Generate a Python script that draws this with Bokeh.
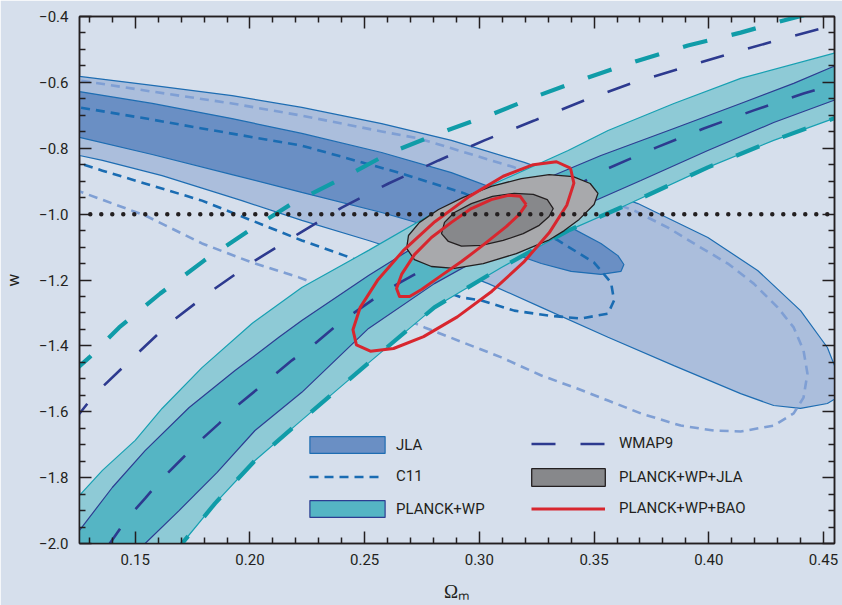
from bokeh.plotting import figure
from bokeh.models import (Range1d, LinearAxis, FixedTicker, CustomJSTickFormatter,
                          Legend, LegendItem)
from bokeh.embed import file_html
from bokeh.resources import INLINE

BG = "#d6dfec"
INK = "#231f20"
FONT = "Roboto"

# ---------------- axes ----------------
x_lo, x_hi = 0.1257, 0.4548
y_lo, y_hi = -2.0, -0.4
x_ticks = [0.15, 0.20, 0.25, 0.30, 0.35, 0.40, 0.45]
x_tick_labels = ["0.15", "0.20", "0.25", "0.30", "0.35", "0.40", "0.45"]
x_minor = [0.13, 0.14, 0.16, 0.17, 0.18, 0.19, 0.21, 0.22, 0.23, 0.24,
           0.26, 0.27, 0.28, 0.29, 0.31, 0.32, 0.33, 0.34, 0.36,
           0.37, 0.38, 0.39, 0.41, 0.42, 0.43, 0.44]
y_ticks = [-2.0, -1.8, -1.6, -1.4, -1.2, -1.0, -0.8, -0.6, -0.4]
y_tick_labels = ["\u22122.0", "\u22121.8", "\u22121.6", "\u22121.4", "\u22121.2",
                 "\u22121.0", "\u22120.8", "\u22120.6", "\u22120.4"]
y_minor = [-1.95, -1.9, -1.85, -1.75, -1.7, -1.65, -1.55, -1.5,
           -1.45, -1.35, -1.3, -1.25, -1.15, -1.1, -1.05, -0.95,
           -0.9, -0.85, -0.75, -0.7, -0.65, -0.55, -0.5, -0.45]

# ---------------- JLA (SN Ia) contours ----------------
jla2_x = [0.1200, 0.1257, 0.1574, 0.1922, 0.2226, 0.2574, 0.2878, 0.3196, 0.3443, 0.3691,
          0.3996, 0.4213, 0.4400, 0.4517, 0.4565, 0.4574, 0.4552, 0.4517, 0.4400, 0.4283,
          0.4139, 0.3848, 0.3561, 0.3270, 0.3039, 0.2748, 0.2517, 0.2226, 0.1965, 0.1617,
          0.1357, 0.1257, 0.1200]
jla2_y = [-0.576, -0.582, -0.609, -0.640, -0.676, -0.725, -0.776, -0.843, -0.904, -0.968,
          -1.071, -1.171, -1.293, -1.405, -1.490, -1.520, -1.560, -1.575, -1.590, -1.581,
          -1.545, -1.460, -1.374, -1.283, -1.211, -1.132, -1.080, -1.019, -0.959, -0.883,
          -0.837, -0.822, -0.810]
jla1_x = [0.1200, 0.1257, 0.1574, 0.1922, 0.2226, 0.2574, 0.2878, 0.3183, 0.3357, 0.3530,
          0.3604, 0.3630, 0.3617, 0.3530, 0.3400, 0.3270, 0.2922, 0.2574, 0.2226, 0.1922,
          0.1574, 0.1257, 0.1200]
jla1_y = [-0.619, -0.628, -0.664, -0.710, -0.755, -0.813, -0.874, -0.953, -1.025, -1.089,
          -1.126, -1.153, -1.174, -1.183, -1.174, -1.150, -1.065, -0.995, -0.934, -0.880,
          -0.819, -0.767, -0.758]

# ---------------- C11 contours ----------------
c11_1_x = [0.1200, 0.1257, 0.1574, 0.1791, 0.2226, 0.2648, 0.2935, 0.3139, 0.3343, 0.3500,
           0.3574, 0.3587, 0.3561, 0.3443, 0.3300, 0.3152, 0.3009, 0.2922, 0.2661, 0.2413,
           0.2226, 0.1791, 0.1357, 0.1257, 0.1200]
c11_1_y = [-0.667, -0.676, -0.713, -0.740, -0.792, -0.874, -0.937, -1.001, -1.080, -1.147,
           -1.208, -1.262, -1.302, -1.317, -1.308, -1.293, -1.262, -1.253, -1.189, -1.126,
           -1.080, -0.959, -0.868, -0.846, -0.834]
c11_2_x = [0.1200, 0.1257, 0.1574, 0.1922, 0.2226, 0.2574, 0.2735, 0.3152, 0.3400, 0.3674,
           0.3822, 0.3935, 0.4083, 0.4196, 0.4300, 0.4370, 0.4413, 0.4430, 0.4413, 0.4370,
           0.4283, 0.4139, 0.4022, 0.3878, 0.3704, 0.3561, 0.3413, 0.3270, 0.3096, 0.2761,
           0.2517, 0.2213, 0.2009, 0.1791, 0.1543, 0.1257, 0.1200]
c11_2_y = [-0.588, -0.594, -0.628, -0.664, -0.701, -0.749, -0.770, -0.858, -0.919, -0.989,
           -1.041, -1.089, -1.150, -1.211, -1.283, -1.344, -1.414, -1.484, -1.557, -1.605,
           -1.642, -1.660, -1.657, -1.642, -1.605, -1.566, -1.526, -1.490, -1.435, -1.344,
           -1.271, -1.192, -1.147, -1.089, -1.004, -0.931, -0.919]

# ---------------- PLANCK+WP band ----------------
pl2_up_x = [0.1050, 0.1257, 0.1357, 0.1500, 0.1617, 0.1791, 0.2009, 0.2226, 0.2517, 0.2804,
            0.3096, 0.3387, 0.3561, 0.3848, 0.4139, 0.4543, 0.4596]
pl2_up_y = [-2.010, -1.854, -1.778, -1.687, -1.590, -1.466, -1.332, -1.223, -1.110, -0.995,
            -0.898, -0.807, -0.746, -0.664, -0.588, -0.512, -0.503]
pl2_lo_x = [0.1661, 0.1704, 0.1848, 0.2022, 0.2213, 0.2530, 0.2804, 0.3096, 0.3387, 0.3617,
            0.3996, 0.4283, 0.4543, 0.4596]
pl2_lo_y = [-2.036, -2.000, -1.878, -1.748, -1.633, -1.444, -1.283, -1.162, -1.050, -0.980,
            -0.858, -0.776, -0.710, -0.698]
pl1_up_x = [0.1200, 0.1257, 0.1400, 0.1543, 0.1735, 0.1935, 0.2126, 0.2226, 0.2517, 0.2804,
            0.3096, 0.3270, 0.3530, 0.3848, 0.4139, 0.4370, 0.4543, 0.4596]
pl1_up_y = [-2.009, -1.960, -1.830, -1.718, -1.587, -1.475, -1.374, -1.323, -1.186, -1.062,
            -0.959, -0.898, -0.822, -0.740, -0.664, -0.603, -0.552, -0.540]
pl1_lo_x = [0.1509, 0.1543, 0.1691, 0.1857, 0.2022, 0.2226, 0.2517, 0.2804, 0.3096, 0.3387,
            0.3704, 0.3996, 0.4283, 0.4543, 0.4596]
pl1_lo_y = [-2.027, -2.000, -1.900, -1.784, -1.657, -1.541, -1.347, -1.211, -1.098, -0.995,
            -0.898, -0.807, -0.722, -0.655, -0.643]

# ---------------- WMAP9 contours (dashed) ----------------
wmap1_up_x = [0.1226, 0.1326, 0.1487, 0.1648, 0.1835, 0.2022, 0.2213, 0.2400, 0.2604, 0.2822,
              0.3022, 0.3239, 0.3457, 0.3674, 0.3891, 0.4109, 0.4326, 0.4543, 0.4596]
wmap1_up_y = [-1.633, -1.545, -1.438, -1.332, -1.232, -1.141, -1.059, -0.980, -0.907, -0.837,
              -0.776, -0.716, -0.655, -0.600, -0.555, -0.509, -0.467, -0.427, -0.418]
wmap1_lo_x = [0.1374, 0.1465, 0.1543, 0.1609, 0.1696, 0.1770, 0.1865, 0.1935, 0.2052, 0.2183,
              0.2283, 0.2387, 0.2574, 0.2661, 0.2878, 0.3096, 0.3313, 0.3561, 0.3770, 0.3978,
              0.4196, 0.4413, 0.4574]
wmap1_lo_y = [-2.015, -1.924, -1.863, -1.809, -1.748, -1.696, -1.636, -1.587, -1.520, -1.444,
              -1.393, -1.332, -1.241, -1.205, -1.120, -1.038, -0.956, -0.861, -0.798, -0.740,
              -0.685, -0.634, -0.600]
wmap2_up_x = [0.1226, 0.1300, 0.1430, 0.1609, 0.1800, 0.1996, 0.2183, 0.2400, 0.2604, 0.2822,
              0.3039, 0.3257, 0.3474, 0.3691, 0.3909, 0.4139, 0.4326, 0.4443]
wmap2_up_y = [-1.481, -1.435, -1.344, -1.241, -1.141, -1.050, -0.968, -0.892, -0.816, -0.755,
              -0.701, -0.640, -0.585, -0.534, -0.488, -0.449, -0.412, -0.391]
wmap2_lo_x = [0.1661, 0.1704, 0.1848, 0.2022, 0.2213, 0.2530, 0.2804, 0.3096, 0.3387, 0.3617,
              0.3996, 0.4283, 0.4543, 0.4596]
wmap2_lo_y = [-2.036, -2.000, -1.878, -1.748, -1.633, -1.444, -1.283, -1.162, -1.050, -0.980,
              -0.858, -0.776, -0.710, -0.698]

# ---------------- PLANCK+WP+JLA (grey) ----------------
pj2_x = [0.3517, 0.3500, 0.3435, 0.3370, 0.3300, 0.3161, 0.3017, 0.2891, 0.2791, 0.2717,
         0.2683, 0.2691, 0.2739, 0.2822, 0.2930, 0.3052, 0.3183, 0.3304, 0.3409, 0.3483]
pj2_y = [-0.937, -0.971, -1.016, -1.050, -1.080, -1.120, -1.150, -1.165, -1.159, -1.138,
         -1.104, -1.065, -1.025, -0.986, -0.949, -0.916, -0.892, -0.880, -0.886, -0.907]
pj1_x = [0.3322, 0.3304, 0.3261, 0.3191, 0.3104, 0.3009, 0.2922, 0.2865, 0.2835, 0.2848,
         0.2891, 0.2965, 0.3057, 0.3152, 0.3235, 0.3296]
pj1_y = [-0.983, -1.007, -1.034, -1.059, -1.080, -1.095, -1.097, -1.083, -1.059, -1.025,
         -0.995, -0.968, -0.946, -0.937, -0.940, -0.956]

# ---------------- PLANCK+WP+BAO (red) ----------------
pb2_x = [0.3397, 0.3412, 0.3381, 0.3305, 0.3193, 0.3055, 0.2904, 0.2757, 0.2626, 0.2525,
         0.2464, 0.2449, 0.2480, 0.2556, 0.2668, 0.2806, 0.2957, 0.3104, 0.3235, 0.3336,
         0.3397]
pb2_y = [-0.860, -0.906, -0.973, -1.056, -1.146, -1.234, -1.312, -1.372, -1.408, -1.416,
         -1.397, -1.351, -1.284, -1.201, -1.111, -1.023, -0.946, -0.885, -0.850, -0.841,
         -0.860]
pb1_x = [0.3204, 0.3174, 0.3117, 0.3009, 0.2922, 0.2835, 0.2748, 0.2696, 0.2652, 0.2639,
         0.2661, 0.2717, 0.2791, 0.2878, 0.2965, 0.3052, 0.3126, 0.3178, 0.3204]
pb1_y = [-0.971, -1.001, -1.038, -1.098, -1.144, -1.186, -1.229, -1.250, -1.250, -1.226,
         -1.183, -1.123, -1.071, -1.025, -0.983, -0.956, -0.943, -0.946, -0.971]

# cosmological constant w = -1
lcdm_x = [0.1304, 0.4548]
lcdm_y = [-1.0, -1.0]

# ---------------- figure ----------------
p = figure(width=842, height=605, x_range=Range1d(x_lo, x_hi),
           y_range=Range1d(y_lo, y_hi), output_backend="svg", toolbar_location=None,
           min_border_left=77, min_border_right=8, min_border_top=16, min_border_bottom=62,
           x_axis_type=None, y_axis_type=None)
p.background_fill_color = BG
p.border_fill_color = BG
p.outline_line_color = INK
p.outline_line_width = 1.5
p.grid.visible = False

FMT = """
const i = tv.findIndex((t) => Math.abs(t - tick) < 1e-6);
return i >= 0 ? tl[i] : "";
"""


def make_axis(ticks, minor, labels, show, standoff):
    ax = LinearAxis(ticker=FixedTicker(ticks=ticks, minor_ticks=minor),
                    formatter=CustomJSTickFormatter(args=dict(tv=ticks, tl=labels), code=FMT))
    ax.axis_line_color = INK
    ax.axis_line_width = 1.5
    ax.major_tick_in = 12
    ax.major_tick_out = 0
    ax.minor_tick_in = 6
    ax.minor_tick_out = 0
    ax.major_tick_line_color = INK
    ax.minor_tick_line_color = INK
    ax.major_tick_line_width = 1.5
    ax.minor_tick_line_width = 1.5
    ax.major_label_text_font = FONT
    ax.major_label_text_color = INK
    ax.major_label_text_font_size = "15px" if show else "0px"
    ax.major_label_standoff = standoff
    return ax


xb = make_axis(x_ticks, x_minor, x_tick_labels, True, 10)
xt = make_axis(x_ticks, x_minor, x_tick_labels, False, 0)
yl = make_axis(y_ticks, y_minor, y_tick_labels, True, 11)
yr = make_axis(y_ticks, y_minor, y_tick_labels, False, 0)
yl.axis_label = "w"
yl.axis_label_text_font = FONT
yl.axis_label_text_font_style = "normal"
yl.axis_label_text_font_size = "17px"
yl.axis_label_text_color = INK
yl.axis_label_standoff = 13
xb.axis_label = "\u03a9\u2098"
xb.axis_label_text_font = "Liberation Serif"
xb.axis_label_text_font_style = "normal"
xb.axis_label_text_font_size = "19px"
xb.axis_label_text_color = INK
xb.axis_label_standoff = 13
p.add_layout(xb, "below")
p.add_layout(xt, "above")
p.add_layout(yl, "left")
p.add_layout(yr, "right")

# JLA
JLA_LINE = "#1e6db2"
r_jla2 = p.patch(jla2_x, jla2_y, fill_color="#abbedc", line_color=JLA_LINE, line_width=1.2)
r_jla1 = p.patch(jla1_x, jla1_y, fill_color="#6a8fc4", line_color=JLA_LINE, line_width=1.2)

# C11
r_c11_2 = p.line(c11_2_x, c11_2_y, line_color="#7f9fd4", line_width=2.6,
                 line_dash="9 6", line_join="round")
r_c11_1 = p.line(c11_1_x, c11_1_y, line_color="#1a6cb2", line_width=2.6,
                 line_dash="9 6", line_join="round")

# WMAP9 upper parts
r_w2u = p.line(wmap2_up_x, wmap2_up_y, line_color="#109ca8", line_width=4.2,
               line_dash="25 25")
r_w1u = p.line(wmap1_up_x, wmap1_up_y, line_color="#2d3a8f", line_width=2.6,
               line_dash="24 25")

# PLANCK+WP
pl2_x = pl2_up_x + pl2_lo_x[::-1]
pl2_y = pl2_up_y + pl2_lo_y[::-1]
pl1_x = pl1_up_x + pl1_lo_x[::-1]
pl1_y = pl1_up_y + pl1_lo_y[::-1]
r_pl2 = p.patch(pl2_x, pl2_y, fill_color="#8ecad6", line_color="#17a0b2", line_width=1.2)
r_pl1 = p.patch(pl1_x, pl1_y, fill_color="#55b5c4", line_color="#2d3d92", line_width=1.2)

# WMAP9 lower parts
r_w1l = p.line(wmap1_lo_x, wmap1_lo_y, line_color="#2d3a8f", line_width=2.6,
               line_dash="24 25")
r_w2l = p.line(wmap2_lo_x, wmap2_lo_y, line_color="#109ca8", line_width=4.2,
               line_dash="25 25")

# PLANCK+WP+JLA
r_pj2 = p.patch(pj2_x, pj2_y, fill_color="#a8a9ac", line_color=INK, line_width=1.3)
r_pj1 = p.patch(pj1_x, pj1_y, fill_color="#87888b", line_color=INK, line_width=1.3)

# PLANCK+WP+BAO
RED = "#d8262e"
r_pb2 = p.line(pb2_x, pb2_y, line_color=RED, line_width=3, line_join="round")
r_pb1 = p.line(pb1_x, pb1_y, line_color=RED, line_width=3, line_join="round")

# w = -1
p.line(lcdm_x, lcdm_y, line_color=INK, line_width=4.5, line_dash="0 11",
       line_cap="round")


# legends
def legend(items, x, y, gw, gh, spacing, standoff):
    lg = Legend(items=items, location=(x, y), orientation="vertical",
                glyph_width=gw, glyph_height=gh, label_height=gh, spacing=spacing,
                label_standoff=standoff, padding=0, margin=0,
                border_line_color=None, background_fill_alpha=0,
                label_text_font=FONT, label_text_font_size="15px",
                label_text_color=INK)
    p.add_layout(lg)


legend([LegendItem(label="JLA", renderers=[r_jla1]),
        LegendItem(label="PLANCK+WP", renderers=[r_pl1])], 221, 24, 94, 21, 43, 2)
legend([LegendItem(label="C11", renderers=[r_c11_1])], 230, 58, 75, 17, 0, 12)
legend([LegendItem(label="WMAP9", renderers=[r_w1u]),
        LegendItem(label="PLANCK+WP+BAO", renderers=[r_pb2])], 452, 26, 74, 17, 47, 14)
legend([LegendItem(label="PLANCK+WP+JLA", renderers=[r_pj1])], 443, 55, 92, 22, 0, 5)

open("out.html", "w").write(file_html(p, INLINE))
